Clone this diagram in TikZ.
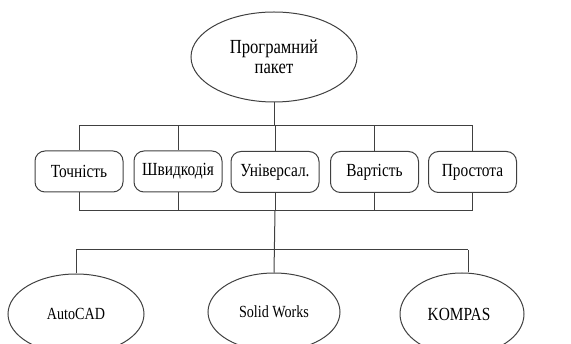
\documentclass[tikz,border=0pt]{standalone}
\usepackage{fontspec}
\setmainfont{Liberation Serif}[FakeStretch=0.83]
\usetikzlibrary{shapes.geometric}
\tikzset{
  ln/.style={draw=black!75, line width=1pt},
  ell/.style={ellipse, ln, inner sep=0pt, align=center},
  rbox/.style={rectangle, ln, rounded corners=10pt, minimum width=88pt, minimum height=41pt, inner sep=0pt,
    font=\fontsize{18.5}{20}\selectfont},
  sml/.style={font=\fontsize{17}{18}\selectfont}
}
\begin{document}
\begin{tikzpicture}[x=1pt,y=-1pt]
\useasboundingbox (0,0) rectangle (571,344);
\node[ell, minimum width=166pt, minimum height=90pt, font=\fontsize{20}{20}\selectfont] (top) at (274,57) {Програмний\\ пакет};
\node[rbox] (b1) at (79,171.5) {Точність};
\node[rbox] (b2) at (178,171.5) {Швидкодія};
\node[rbox] (b3) at (275,172) {Універсал.};
\node[rbox] (b4) at (374.5,172) {Вартість};
\node[rbox] (b5) at (472.5,172) {Простота};
\node[ell, sml, minimum width=136pt, minimum height=80pt] (e1) at (76,314) {AutoCAD};
\node[ell, sml, minimum width=132pt, minimum height=78pt] (e2) at (274,312) {Solid Works};
\node[ell, font=\fontsize{18.5}{18}\selectfont, minimum width=124pt, minimum height=82pt] (e3) at (462,314) {\hspace*{-6pt}KOMPAS};
\coordinate (busA) at (0,126);
\coordinate (busB) at (0,211);
\coordinate (busC) at (0,250);
% top bus
\draw[ln] (top.south) -- (top.south |- busA);
\draw[ln] (b1.north |- busA) -- (b5.north |- busA);
\foreach \b in {b1,b2,b3,b4,b5} {
  \draw[ln] (\b.north |- busA) -- (\b.north);
  \draw[ln] (\b.south) -- (\b.south |- busB);
}
\draw[ln] (b1.south |- busB) -- (b5.south |- busB);
\draw[ln] (b3.south |- busB) -- (e2.north);
\draw[ln] (e1.north |- busC) -- ([xshift=6pt]e3.north |- busC);
\draw[ln] (e1.north |- busC) -- (e1.north);
\draw[ln] ([xshift=6pt]e3.north |- busC) -- ([xshift=6pt]e3.north);
\end{tikzpicture}
\end{document}
